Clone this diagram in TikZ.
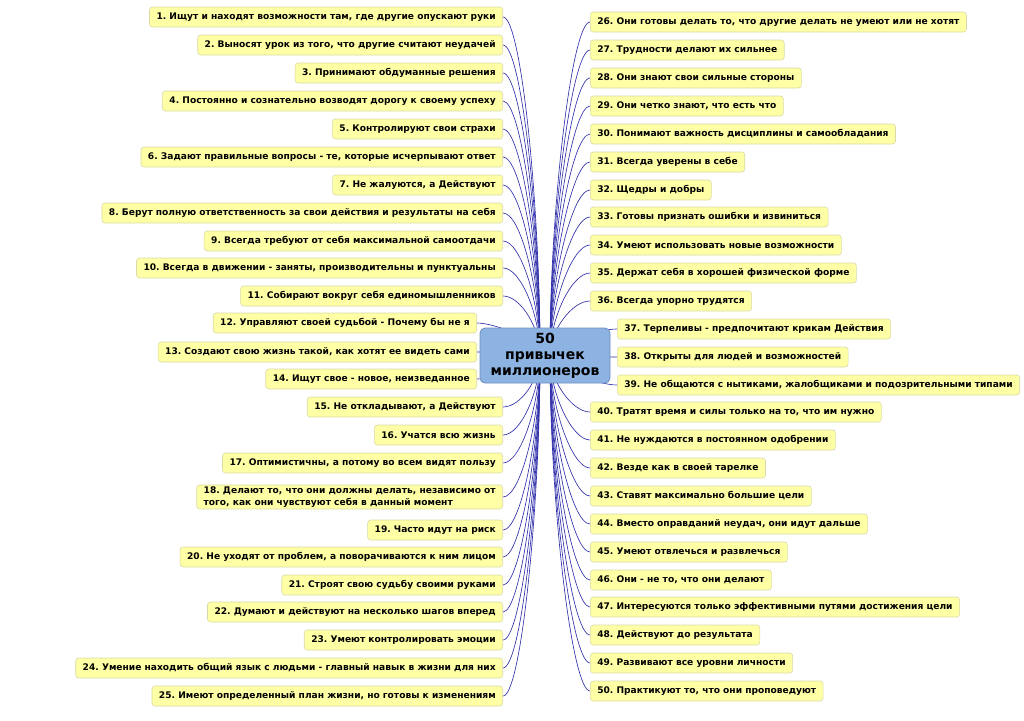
\documentclass[tikz,border=0pt]{standalone}
\usepackage{fontspec}
\setmainfont{DejaVu Sans}
\usetikzlibrary{backgrounds,calc}
\definecolor{boxfill}{HTML}{FFFFA6}
\definecolor{boxdraw}{HTML}{D9D9A8}
\definecolor{hubfill}{HTML}{8DB3E2}
\definecolor{hubdraw}{HTML}{6E8EBE}
\definecolor{linkcol}{HTML}{3030AA}
\tikzset{
  item/.style={draw=boxdraw, fill=boxfill, rounded corners=3pt, line width=0.6pt,
    font=\fontsize{9.1}{11.3}\selectfont\bfseries\frenchspacing, inner xsep=7pt, inner ysep=2pt,
    minimum height=20pt, text=black},
  litem/.style={item, anchor=east},
  ritem/.style={item, anchor=west},
  hub/.style={draw=hubdraw, fill=hubfill, rounded corners=5pt, line width=0.8pt,
    font=\fontsize{14}{16}\selectfont\bfseries, align=center,
    minimum width=130pt, minimum height=55pt, inner sep=2pt},
  link/.style={draw=linkcol, line width=0.65pt}
}
\begin{document}
\begin{tikzpicture}[x=1pt,y=-1pt]
\useasboundingbox (0,0) rectangle (1024,720);
\node[hub] (c) at (545,355.5) {50\\привычек\\миллионеров};
\coordinate (cl) at (540,355);
\coordinate (cr) at (550,355);
% left
\node[litem] (l1) at (503,17) {1. Ищут и находят возможности там, где другие опускают руки};
\node[litem] (l2) at (503,45) {2. Выносят урок из того, что другие считают неудачей};
\node[litem] (l3) at (503,73) {3. Принимают обдуманные решения};
\node[litem] (l4) at (503,101) {4. Постоянно и сознательно возводят дорогу к своему успеху};
\node[litem] (l5) at (503,129) {5. Контролируют свои страхи};
\node[litem] (l6) at (503,157) {6. Задают правильные вопросы - те, которые исчерпывают ответ};
\node[litem] (l7) at (503,185) {7. Не жалуются, а Действуют};
\node[litem] (l8) at (503,213) {8. Берут полную ответственность за свои действия и результаты на себя};
\node[litem] (l9) at (503,241) {9. Всегда требуют от себя максимальной самоотдачи};
\node[litem] (l10) at (503,268) {10. Всегда в движении - заняты, производительны и пунктуальны};
\node[litem] (l11) at (503,296) {11. Собирают вокруг себя единомышленников};
\node[litem] (l12) at (477,323) {12. Управляют своей судьбой - Почему бы не я};
\node[litem] (l13) at (477,352) {13. Создают свою жизнь такой, как хотят ее видеть сами};
\node[litem] (l14) at (477,379) {14. Ищут свое - новое, неизведанное};
\node[litem] (l15) at (503,407) {15. Не откладывают, а Действуют};
\node[litem] (l16) at (503,435) {16. Учатся всю жизнь};
\node[litem] (l17) at (503,463) {17. Оптимистичны, а потому во всем видят пользу};
\node[litem, align=left] (l18) at (503,497) {18. Делают то, что они должны делать, независимо от\\того, как они чувствуют себя в данный момент};
\node[litem] (l19) at (503,530) {19. Часто идут на риск};
\node[litem] (l20) at (503,557) {20. Не уходят от проблем, а поворачиваются к ним лицом};
\node[litem] (l21) at (503,585) {21. Строят свою судьбу своими руками};
\node[litem] (l22) at (503,612) {22. Думают и действуют на несколько шагов вперед};
\node[litem] (l23) at (503,640) {23. Умеют контролировать эмоции};
\node[litem] (l24) at (503,668) {24. Умение находить общий язык с людьми - главный навык в жизни для них};
\node[litem] (l25) at (503,696) {25. Имеют определенный план жизни, но готовы к изменениям};
% right
\node[ritem] (r26) at (590,22) {26. Они готовы делать то, что другие делать не умеют или не хотят};
\node[ritem] (r27) at (590,50) {27. Трудности делают их сильнее};
\node[ritem] (r28) at (590,78) {28. Они знают свои сильные стороны};
\node[ritem] (r29) at (590,106) {29. Они четко знают, что есть что};
\node[ritem] (r30) at (590,134) {30. Понимают важность дисциплины и самообладания};
\node[ritem] (r31) at (590,162) {31. Всегда уверены в себе};
\node[ritem] (r32) at (590,190) {32. Щедры и добры};
\node[ritem] (r33) at (590,217) {33. Готовы признать ошибки и извиниться};
\node[ritem] (r34) at (590,245) {34. Умеют использовать новые возможности};
\node[ritem] (r35) at (590,273) {35. Держат себя в хорошей физической форме};
\node[ritem] (r36) at (590,301) {36. Всегда упорно трудятся};
\node[ritem] (r37) at (617,329) {37. Терпеливы - предпочитают крикам Действия};
\node[ritem] (r38) at (617,357) {38. Открыты для людей и возможностей};
\node[ritem] (r39) at (617,385) {39. Не общаются с нытиками, жалобщиками и подозрительными типами};
\node[ritem] (r40) at (590,412) {40. Тратят время и силы только на то, что им нужно};
\node[ritem] (r41) at (590,440) {41. Не нуждаются в постоянном одобрении};
\node[ritem] (r42) at (590,468) {42. Везде как в своей тарелке};
\node[ritem] (r43) at (590,496) {43. Ставят максимально большие цели};
\node[ritem] (r44) at (590,524) {44. Вместо оправданий неудач, они идут дальше};
\node[ritem] (r45) at (590,552) {45. Умеют отвлечься и развлечься};
\node[ritem] (r46) at (590,580) {46. Они - не то, что они делают};
\node[ritem] (r47) at (590,607) {47. Интересуются только эффективными путями достижения цели};
\node[ritem] (r48) at (590,635) {48. Действуют до результата};
\node[ritem] (r49) at (590,663) {49. Развивают все уровни личности};
\node[ritem] (r50) at (590,691) {50. Практикуют то, что они проповедуют};
\begin{pgfonlayer}{background}
\foreach \i in {1,...,25}{
  \draw[link] let \p1=(l\i.east), \p2=(cl) in
    (l\i.east) .. controls ($(l\i.east)+(18,0)$) and ({\x2},{\y1+0.55*(\y2-\y1)}) .. (cl);
}
\foreach \i in {26,...,50}{
  \draw[link] let \p1=(r\i.west), \p2=(cr) in
    (r\i.west) .. controls ($(r\i.west)+(-18,0)$) and ({\x2},{\y1+0.55*(\y2-\y1)}) .. (cr);
}
\end{pgfonlayer}
\end{tikzpicture}
\end{document}
